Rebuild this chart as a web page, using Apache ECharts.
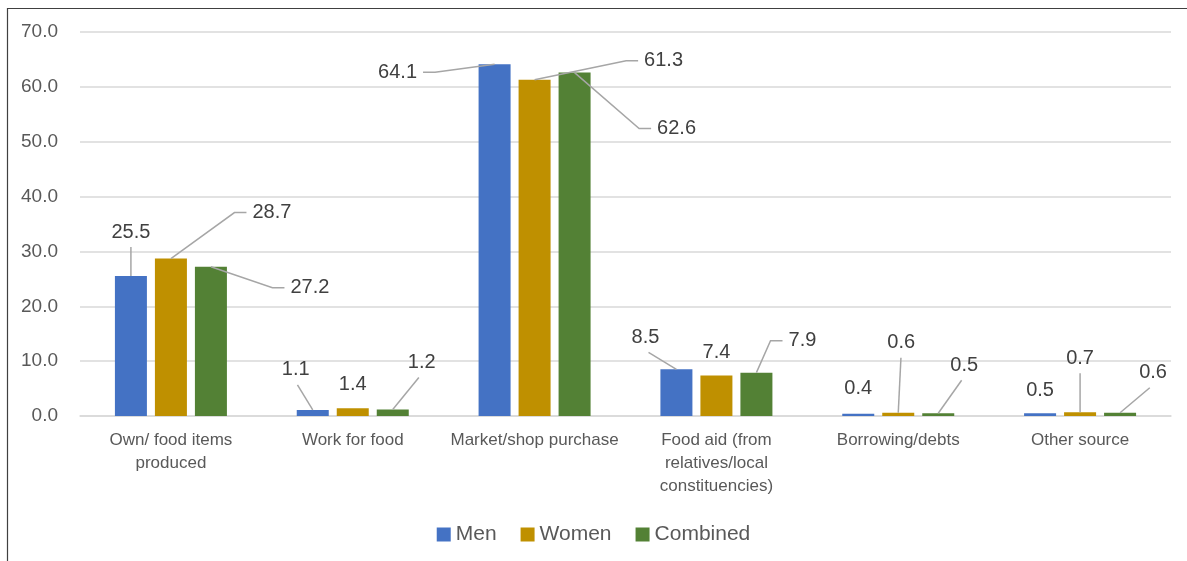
<!DOCTYPE html>
<html>
<head>
<meta charset="utf-8">
<script src="https://cdn.jsdelivr.net/npm/echarts@6/dist/echarts.min.js"></script>
<style>
html,body{margin:0;padding:0;background:#fff;}
#chart{width:1187px;height:561px;}
</style>
</head>
<body>
<div id="chart"></div>
<script>
// ---- data ----
const categories = [
  "Own/ food items\nproduced",
  "Work for food",
  "Market/shop purchase",
  "Food aid (from\nrelatives/local\nconstituencies)",
  "Borrowing/debts",
  "Other source"
];
const seriesNames = ["Men", "Women", "Combined"];
const men      = [25.5, 1.1, 64.1, 8.5, 0.4, 0.5];
const women    = [28.7, 1.4, 61.3, 7.4, 0.6, 0.7];
const combined = [27.2, 1.2, 62.6, 7.9, 0.5, 0.6];
const yTicks = [0, 10, 20, 30, 40, 50, 60, 70];

// ---- label placement (offset of label centre from bar-top centre, px) ----
const labelOffsets = [
  [[0,-44],[-17,-40],[-97,8],[-31,-32],[0,-25],[0,-23]],
  [[101,-46],[0,-24],[129,-19],[0,-23],[3,-70],[0,-54]],
  [[99,21],[29,-47],[102,56],[46,-32],[26,-48],[33,-40]]
];
const leaderShown = [
  [true,true,true,true,false,false],
  [true,false,true,false,true,true],
  [true,true,true,true,true,true]
];
const colors = ["#4472C4", "#BF9000", "#538135"];
const FONT = "Liberation Sans";
const BAR_W = 32, BAR_STEP = 40, LABEL_FS = 20, LABEL_H = 24;

const chart = echarts.init(document.getElementById('chart'), null, {renderer:'canvas'});
const allValues = [men, women, combined];

function textWidth(s) {
  let w = 0;
  for (const ch of s) w += (ch === '.') ? LABEL_FS * 0.278 : LABEL_FS * 0.556;
  return w;
}

function leaderPoints(bx, by, lx, ly, w, h) {
  const dx = lx - bx;
  if (Math.abs(dx) > 40) {
    const side = dx > 0 ? -1 : 1;
    const endX = lx + side * (w / 2 + 6);
    const elbowX = endX + side * 12;
    return [[bx, by], [elbowX, ly], [endX, ly]];
  }
  const endY = ly + h / 2 + 3;
  const endX = lx + Math.max(-w / 4, Math.min(w / 4, -dx * 0.1));
  return [[bx, by], [endX, endY]];
}

const barSeries = allValues.map((vals, si) => ({
  name: seriesNames[si],
  type: 'bar',
  barWidth: BAR_W,
  barGap: '25%',
  itemStyle: {color: colors[si]},
  data: vals,
  z: 2,
  label: {
    show: true,
    position: 'top',
    fontFamily: FONT,
    fontSize: LABEL_FS,
    color: '#404040',
    formatter: p => p.value.toFixed(1)
  },
  labelLayout: function (params) {
    const o = labelOffsets[params.seriesIndex][params.dataIndex];
    const bx = params.rect.x + params.rect.width / 2;
    const by = params.rect.y;
    return {
      x: bx + o[0],
      y: by + o[1],
      align: 'center',
      verticalAlign: 'middle'
    };
  }
}));

const leaderData = [];
allValues.forEach((vals, si) => vals.forEach((v, di) => {
  if (leaderShown[si][di]) leaderData.push([di, v, si]);
}));

const leaderSeries = {
  type: 'custom',
  silent: true,
  z: 5,
  data: leaderData,
  encode: {x: 0, y: 1},
  renderItem: function (params, api) {
    const di = api.value(0), v = api.value(1), si = api.value(2);
    const p = api.coord([di, v]);
    const bx = p[0] + (si - 1) * BAR_STEP;
    const by = p[1];
    const o = labelOffsets[si][di];
    const lx = bx + o[0], ly = by + o[1];
    const pts = leaderPoints(bx, by, lx, ly, textWidth(v.toFixed(1)), LABEL_H);
    return {
      type: 'polyline',
      shape: {points: pts},
      style: {stroke: '#a6a6a6', lineWidth: 1.5, fill: null}
    };
  }
};

chart.setOption({
  animation: false,
  backgroundColor: '#ffffff',
  textStyle: {fontFamily: FONT},
  grid: {left: 80, right: 16, top: 32, bottom: 145, containLabel: false},
  graphic: [{
    type: 'rect',
    shape: {x: 7.5, y: 8.5, width: 1300, height: 700},
    style: {fill: 'none', stroke: '#404040', lineWidth: 1.2},
    silent: true
  }],
  legend: {
    data: seriesNames,
    bottom: 11,
    left: 'center',
    icon: 'rect',
    itemWidth: 14,
    itemHeight: 14,
    itemGap: 24,
    textStyle: {fontFamily: FONT, fontSize: 21, color: '#595959'}
  },
  xAxis: {
    type: 'category',
    data: categories,
    axisLine: {show: true, lineStyle: {color: '#d9d9d9', width: 1.5}},
    axisTick: {show: false},
    axisLabel: {
      fontFamily: FONT,
      fontSize: 17,
      color: '#595959',
      lineHeight: 23,
      margin: 13,
      interval: 0
    }
  },
  yAxis: {
    type: 'value',
    min: yTicks[0],
    max: yTicks[yTicks.length - 1],
    interval: 10,
    axisLine: {show: false},
    axisTick: {show: false},
    splitLine: {lineStyle: {color: '#d9d9d9', width: 1.5}},
    axisLabel: {
      fontFamily: FONT,
      fontSize: 19,
      color: '#595959',
      margin: 22,
      formatter: v => v.toFixed(1)
    }
  },
  series: barSeries.concat([leaderSeries])
});
</script>
</body>
</html>
